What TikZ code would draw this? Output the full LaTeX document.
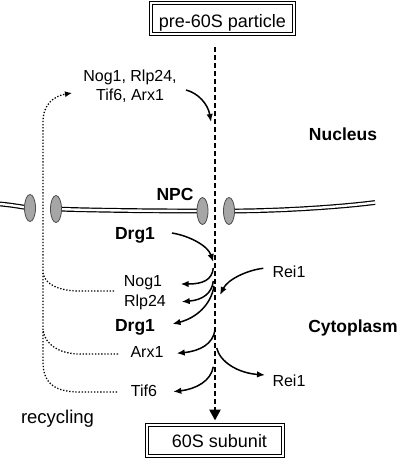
\documentclass[tikz,border=0pt]{standalone}
\usepackage{fontspec}
\setmainfont{Liberation Sans}
\usetikzlibrary{arrows.meta,shapes.geometric}
\begin{document}
\begin{tikzpicture}[x=1pt,y=-1pt,
  lbl/.style={anchor=base,inner sep=0pt,font=\fontsize{16}{18.5}\selectfont},
  blbl/.style={anchor=base,inner sep=0pt,font=\fontsize{17.5}{20}\selectfont\bfseries},
  boxnode/.style={draw,double,double distance=2pt,line width=1pt,text depth=0pt,
    font=\fontsize{18}{21}\selectfont},
  arr/.style={line width=1.5pt,-{Latex[length=8pt,width=6.5pt]}},
  dotln/.style={line width=1.3pt,dash pattern=on 1.3pt off 1.8pt},
  mainarr/.style={line width=2.6pt,dash pattern=on 5pt off 3pt,
    -{Triangle[length=11pt,width=11pt]}},
  membrane/.style={draw=black,double=white,line width=1.2pt,double distance=2.4pt},
  pore/.style={ellipse,draw=black!70,fill=black!35,line width=0.8pt,
    minimum width=11pt,minimum height=27pt,inner sep=0pt}]
\useasboundingbox (0,0) rectangle (400,459);

% boxes
\node[boxnode,minimum width=143pt,minimum height=31pt,text height=17pt] (pre) at (222.5,18.5) {pre-60S particle};
\node[boxnode,minimum width=136pt,minimum height=31pt,text height=13pt] (sub) at (215,440.5) {\hspace*{9pt}60S subunit};

% membrane
\coordinate (mL) at (0,204);
\coordinate (p1) at (30,208);
\coordinate (p2) at (56,209);
\coordinate (p3) at (202.5,211);
\coordinate (p4) at (229,211);
\coordinate (mR) at (375,202.5);
\draw[membrane] (mL) .. controls (12,205) and (22,207) .. (p1);
\draw[membrane] (p2) .. controls (100,210.5) and (160,211) .. (p3);
\draw[membrane] (p4) .. controls (280,211) and (340,207) .. (mR);
\node[pore] (npc1) at (p1) {};
\node[pore] (npc2) at (p2) {};
\node[pore] (npc3) at (p3) {};
\node[pore] (npc4) at (p4) {};

% main dashed path
\coordinate (dtop) at (215,47);
\draw[mainarr,shorten >=4pt] (dtop) -- (dtop |- sub.north);

% labels
\node[lbl,anchor=center,align=center] (grp) at (130,86) {Nog1, Rlp24,\\Tif6, Arx1};
\node[blbl] (nuc) at (343,140) {Nucleus};
\node[blbl] (npc) at (175,200) {NPC};
\node[blbl] (drgA) at (135,239) {Drg1};
\node[lbl] (nog) at (143,286) {Nog1};
\node[lbl] (rlp) at (145,306) {Rlp24};
\node[blbl] (drgB) at (135,331) {Drg1};
\node[lbl] (arx) at (147,357.5) {Arx1};
\node[lbl] (tif) at (144,396) {Tif6};
\node[lbl] (reiA) at (289,277) {Rei1};
\node[lbl] (reiB) at (289,386) {Rei1};
\node[blbl] (cyt) at (353,332) {Cytoplasm};
\node[anchor=base,inner sep=0pt,font=\fontsize{18.5}{21}\selectfont] (rec) at (57.5,423.5) {recycling};

% solid arrows
\coordinate (a1s) at (186,90);   \coordinate (a1e) at (211,122);
\coordinate (a2s) at (172,233);  \coordinate (a2e) at (213.3,262);
\coordinate (a3s) at (213.3,268);\coordinate (a3e) at (180.7,284);
\coordinate (a4s) at (213.3,281);\coordinate (a4e) at (181.7,301.7);
\coordinate (a5s) at (214,286);  \coordinate (a5e) at (172.5,324);
\coordinate (a6s) at (263.3,268.3);\coordinate (a6e) at (220,295);
\coordinate (a7s) at (215,330);  \coordinate (a7e) at (176.7,353.3);
\coordinate (a8s) at (216.7,348);\coordinate (a8e) at (265,375);
\coordinate (a9s) at (213.3,366.7);\coordinate (a9e) at (173.3,391.7);
\draw[arr] (a1s) .. controls (198,93) and (208,104) .. (a1e);
\draw[arr] (a2s) .. controls (190,236) and (208,246) .. (a2e);
\draw[arr] (a3s) .. controls (212,280) and (203,284) .. (a3e);
\draw[arr] (a4s) .. controls (212,293) and (203,300) .. (a4e);
\draw[arr] (a5s) .. controls (211,305) and (196,318) .. (a5e);
\draw[arr] (a6s) .. controls (248,270) and (228,279) .. (a6e);
\draw[arr] (a7s) .. controls (213,344) and (200,351) .. (a7e);
\draw[arr] (a8s) .. controls (220,362) and (238,373) .. (a8e);
\draw[arr] (a9s) .. controls (211,381) and (196,389) .. (a9e);

% recycling dotted paths
\coordinate (rtip) at (72,93);
\coordinate (nogd) at (114,291);
\coordinate (arxd) at (118,354);
\coordinate (tifd) at (117,392);
\draw[dotln,-{Latex[length=7pt,width=6pt]}] (tifd) -- (80,392) .. controls (57,392) and (43,385) .. (43,362) -- (43,122) .. controls (43,104) and (54,96) .. (rtip);
\draw[dotln] (nogd) -- (80,291) .. controls (60,291) and (45,285) .. (43,273);
\draw[dotln] (arxd) -- (80,354) .. controls (60,354) and (45,345) .. (43,330);
\end{tikzpicture}
\end{document}
